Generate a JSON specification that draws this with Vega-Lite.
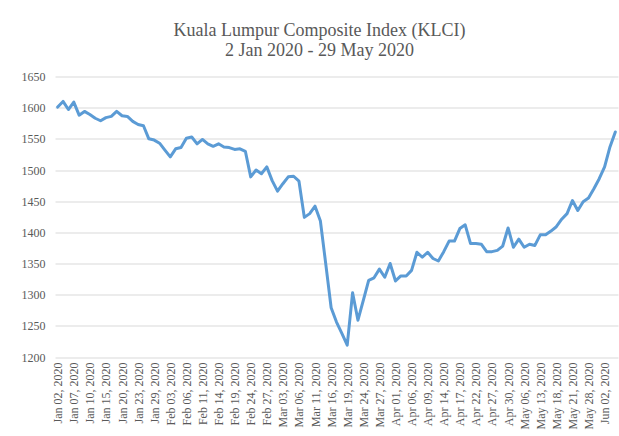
{
  "$schema": "https://vega.github.io/schema/vega-lite/v6.json",
  "width": 563,
  "height": 280.5,
  "autosize": {"type": "none"},
  "padding": {"left": 55, "top": 76.5, "right": 1, "bottom": 79},
  "background": "white",
  "title": {
    "text": ["Kuala Lumpur Composite Index (KLCI)", "2 Jan 2020 - 29 May 2020"],
    "font": "Liberation Serif",
    "fontSize": 18,
    "fontWeight": "normal",
    "color": "#595959",
    "anchor": "middle",
    "frame": "bounds",
    "lineHeight": 20,
    "offset": 11
  },
  "data": {
    "values": [
      {"date": "Jan 02, 2020", "klci": 1601},
      {"date": "Jan 03, 2020", "klci": 1610},
      {"date": "Jan 06, 2020", "klci": 1597},
      {"date": "Jan 07, 2020", "klci": 1609},
      {"date": "Jan 08, 2020", "klci": 1588},
      {"date": "Jan 09, 2020", "klci": 1594},
      {"date": "Jan 10, 2020", "klci": 1589},
      {"date": "Jan 13, 2020", "klci": 1583},
      {"date": "Jan 14, 2020", "klci": 1579},
      {"date": "Jan 15, 2020", "klci": 1584},
      {"date": "Jan 16, 2020", "klci": 1586},
      {"date": "Jan 17, 2020", "klci": 1594},
      {"date": "Jan 20, 2020", "klci": 1587},
      {"date": "Jan 21, 2020", "klci": 1586},
      {"date": "Jan 22, 2020", "klci": 1578},
      {"date": "Jan 23, 2020", "klci": 1573},
      {"date": "Jan 24, 2020", "klci": 1571},
      {"date": "Jan 28, 2020", "klci": 1550},
      {"date": "Jan 29, 2020", "klci": 1548},
      {"date": "Jan 30, 2020", "klci": 1543},
      {"date": "Jan 31, 2020", "klci": 1532},
      {"date": "Feb 03, 2020", "klci": 1521},
      {"date": "Feb 04, 2020", "klci": 1534},
      {"date": "Feb 05, 2020", "klci": 1536},
      {"date": "Feb 06, 2020", "klci": 1551},
      {"date": "Feb 07, 2020", "klci": 1553},
      {"date": "Feb 10, 2020", "klci": 1542},
      {"date": "Feb 11, 2020", "klci": 1549},
      {"date": "Feb 12, 2020", "klci": 1542},
      {"date": "Feb 13, 2020", "klci": 1538},
      {"date": "Feb 14, 2020", "klci": 1542},
      {"date": "Feb 17, 2020", "klci": 1537},
      {"date": "Feb 18, 2020", "klci": 1536},
      {"date": "Feb 19, 2020", "klci": 1533},
      {"date": "Feb 20, 2020", "klci": 1534},
      {"date": "Feb 21, 2020", "klci": 1530},
      {"date": "Feb 24, 2020", "klci": 1489},
      {"date": "Feb 25, 2020", "klci": 1500},
      {"date": "Feb 26, 2020", "klci": 1494},
      {"date": "Feb 27, 2020", "klci": 1505},
      {"date": "Feb 28, 2020", "klci": 1483},
      {"date": "Mar 02, 2020", "klci": 1466},
      {"date": "Mar 03, 2020", "klci": 1478},
      {"date": "Mar 04, 2020", "klci": 1489},
      {"date": "Mar 05, 2020", "klci": 1490},
      {"date": "Mar 06, 2020", "klci": 1482},
      {"date": "Mar 09, 2020", "klci": 1424},
      {"date": "Mar 10, 2020", "klci": 1430},
      {"date": "Mar 11, 2020", "klci": 1442},
      {"date": "Mar 12, 2020", "klci": 1418},
      {"date": "Mar 13, 2020", "klci": 1349},
      {"date": "Mar 16, 2020", "klci": 1279},
      {"date": "Mar 17, 2020", "klci": 1256},
      {"date": "Mar 18, 2020", "klci": 1238},
      {"date": "Mar 19, 2020", "klci": 1219},
      {"date": "Mar 20, 2020", "klci": 1303},
      {"date": "Mar 23, 2020", "klci": 1259},
      {"date": "Mar 24, 2020", "klci": 1291},
      {"date": "Mar 25, 2020", "klci": 1323},
      {"date": "Mar 26, 2020", "klci": 1327},
      {"date": "Mar 27, 2020", "klci": 1341},
      {"date": "Mar 30, 2020", "klci": 1328},
      {"date": "Mar 31, 2020", "klci": 1350},
      {"date": "Apr 01, 2020", "klci": 1322},
      {"date": "Apr 02, 2020", "klci": 1330},
      {"date": "Apr 03, 2020", "klci": 1330},
      {"date": "Apr 06, 2020", "klci": 1339},
      {"date": "Apr 07, 2020", "klci": 1368},
      {"date": "Apr 08, 2020", "klci": 1360},
      {"date": "Apr 09, 2020", "klci": 1368},
      {"date": "Apr 10, 2020", "klci": 1358},
      {"date": "Apr 13, 2020", "klci": 1354},
      {"date": "Apr 14, 2020", "klci": 1369},
      {"date": "Apr 15, 2020", "klci": 1386},
      {"date": "Apr 16, 2020", "klci": 1386},
      {"date": "Apr 17, 2020", "klci": 1406},
      {"date": "Apr 20, 2020", "klci": 1412},
      {"date": "Apr 21, 2020", "klci": 1382},
      {"date": "Apr 22, 2020", "klci": 1382},
      {"date": "Apr 23, 2020", "klci": 1381},
      {"date": "Apr 24, 2020", "klci": 1369},
      {"date": "Apr 27, 2020", "klci": 1369},
      {"date": "Apr 28, 2020", "klci": 1371},
      {"date": "Apr 29, 2020", "klci": 1378},
      {"date": "Apr 30, 2020", "klci": 1407},
      {"date": "May 04, 2020", "klci": 1376},
      {"date": "May 05, 2020", "klci": 1389},
      {"date": "May 06, 2020", "klci": 1376},
      {"date": "May 08, 2020", "klci": 1381},
      {"date": "May 11, 2020", "klci": 1379},
      {"date": "May 13, 2020", "klci": 1396},
      {"date": "May 14, 2020", "klci": 1396},
      {"date": "May 15, 2020", "klci": 1402},
      {"date": "May 18, 2020", "klci": 1409},
      {"date": "May 19, 2020", "klci": 1421},
      {"date": "May 20, 2020", "klci": 1430},
      {"date": "May 21, 2020", "klci": 1451},
      {"date": "May 22, 2020", "klci": 1435},
      {"date": "May 27, 2020", "klci": 1449},
      {"date": "May 28, 2020", "klci": 1455},
      {"date": "May 29, 2020", "klci": 1470},
      {"date": "Jun 01, 2020", "klci": 1486},
      {"date": "Jun 02, 2020", "klci": 1505},
      {"date": "Jun 03, 2020", "klci": 1537},
      {"date": "Jun 04, 2020", "klci": 1561}
    ]
  },
  "mark": {"type": "line", "color": "#5B9BD5", "strokeWidth": 3, "strokeJoin": "round", "strokeCap": "round"},
  "encoding": {
    "x": {
      "field": "date",
      "type": "ordinal",
      "sort": null,
      "scale": {"type": "point", "padding": 0.5},
      "axis": {
        "title": null,
        "values": ["Jan 02, 2020", "Jan 07, 2020", "Jan 10, 2020", "Jan 15, 2020", "Jan 20, 2020", "Jan 23, 2020", "Jan 29, 2020", "Feb 03, 2020", "Feb 06, 2020", "Feb 11, 2020", "Feb 14, 2020", "Feb 19, 2020", "Feb 24, 2020", "Feb 27, 2020", "Mar 03, 2020", "Mar 06, 2020", "Mar 11, 2020", "Mar 16, 2020", "Mar 19, 2020", "Mar 24, 2020", "Mar 27, 2020", "Apr 01, 2020", "Apr 06, 2020", "Apr 09, 2020", "Apr 14, 2020", "Apr 17, 2020", "Apr 22, 2020", "Apr 27, 2020", "Apr 30, 2020", "May 06, 2020", "May 13, 2020", "May 18, 2020", "May 21, 2020", "May 28, 2020", "Jun 02, 2020"],
        "labelAngle": -90,
        "labelFont": "Liberation Serif",
        "labelFontSize": 12,
        "labelColor": "#595959",
        "labelPadding": 5,
        "ticks": false,
        "domain": false,
        "grid": false,
        "labelOverlap": false
      }
    },
    "y": {
      "field": "klci",
      "type": "quantitative",
      "scale": {"domain": [1200, 1650], "nice": false, "zero": false},
      "axis": {
        "title": null,
        "values": [1200, 1250, 1300, 1350, 1400, 1450, 1500, 1550, 1600, 1650],
        "format": "d",
        "labelFont": "Liberation Serif",
        "labelFontSize": 12,
        "labelColor": "#595959",
        "labelPadding": 10,
        "ticks": false,
        "domain": false,
        "grid": true,
        "gridColor": "#d9d9d9",
        "gridWidth": 1
      }
    }
  },
  "config": {"view": {"stroke": null}}
}
